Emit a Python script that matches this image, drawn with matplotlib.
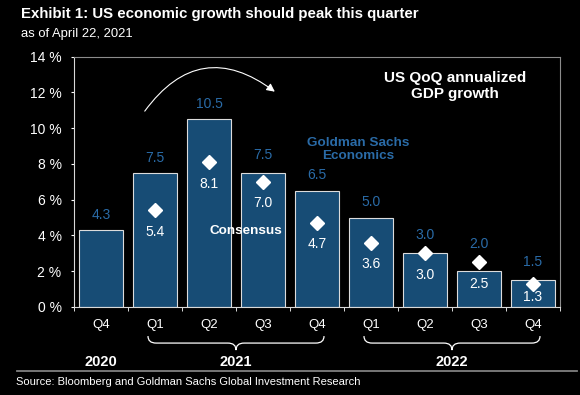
import matplotlib
matplotlib.use('Agg')
import matplotlib.pyplot as plt
from matplotlib.path import Path
from matplotlib.patches import PathPatch
from matplotlib.lines import Line2D
import matplotlib.transforms as mtransforms

plt.rcParams['font.family'] = ['Liberation Sans', 'DejaVu Sans']

# Data
quarters = ['Q4', 'Q1', 'Q2', 'Q3', 'Q4', 'Q1', 'Q2', 'Q3', 'Q4']
gs_growth = [4.3, 7.5, 10.5, 7.5, 6.5, 5.0, 3.0, 2.0, 1.5]
consensus = [None, 5.4, 8.1, 7.0, 4.7, 3.6, 3.0, 2.5, 1.3]
years = ['2020', '2021', '2022']
year_spans = [(0, 0), (1, 4), (5, 8)]
y_ticks = [0, 2, 4, 6, 8, 10, 12, 14]

bar_color = '#174c75'
label_blue = '#2a6ba7'

fig = plt.figure(figsize=(5.8, 3.95), dpi=100, facecolor='black')
ax = fig.add_axes([74 / 580, 88 / 395, 486 / 580, 250.5 / 395])
ax.set_facecolor('black')

x = list(range(len(quarters)))
ax.bar(x, gs_growth, width=0.81, color=bar_color, edgecolor='#dcdcdc', linewidth=0.8, zorder=2)

# consensus diamonds
cx = [i for i, c in zip(x, consensus) if c is not None]
cy = [c for c in consensus if c is not None]
ax.plot(cx, cy, 'D', color='white', markersize=7.5, linestyle='none', zorder=4)

# value labels
for i, (g, c) in enumerate(zip(gs_growth, consensus)):
    if c is not None and c > g - 0.8:
        ty = max(g, c) + 1.0
    else:
        ty = g + 0.85
    ax.text(i, ty, f'{g:.1f}', color=label_blue, fontsize=10, ha='center', va='center', zorder=5)
    if c is not None:
        ax.text(i, max(c - 1.2, 0.58), f'{c:.1f}', color='white', fontsize=10,
                ha='center', va='center', zorder=5)

ax.set_xlim(-0.5, len(quarters) - 0.5)
ax.set_ylim(0, 14)
ax.set_yticks(y_ticks)
ax.set_yticklabels([f'{v} %' for v in y_ticks], color='white', fontsize=10)
ax.set_xticks(x)
ax.set_xticklabels(quarters, color='white', fontsize=9.5)
ax.set_xticks([i - 0.5 for i in range(len(quarters) + 1)], minor=True)
ax.tick_params(axis='x', which='major', length=0, pad=8.5)
ax.tick_params(axis='x', which='minor', length=3, color='white', direction='out')
ax.tick_params(axis='y', length=2.5, color='white', pad=6.5)

for s in ['left', 'bottom']:
    ax.spines[s].set_color('#d9d9d9')
for s in ['top', 'right']:
    ax.spines[s].set_color('#8c8c8c')

# text annotations
ax.text(6.56, 12.35, 'US QoQ annualized\nGDP growth', color='white', fontsize=11,
        fontweight='bold', ha='center', va='center', linespacing=1.1)
ax.text(4.76, 8.78, 'Goldman Sachs\nEconomics', color=label_blue, fontsize=9.7,
        fontweight='bold', ha='center', va='center', linespacing=1.1)
ax.text(2.685, 4.24, 'Consensus', color='white', fontsize=9.7, fontweight='bold',
        ha='center', va='center', zorder=6)
ax.annotate('', xy=(3.26, 11.94), xytext=(0.78, 10.82),
            arrowprops=dict(arrowstyle='-|>', color='white', lw=0.8,
                            connectionstyle='arc3,rad=-0.52', mutation_scale=12))

# year braces and labels under the axis
trans = mtransforms.blended_transform_factory(ax.transData, ax.transAxes)
y_top, y_mid, y_bot = -0.116, -0.144, -0.172
r = 0.15
for (a, b), yr in zip(year_spans, years):
    mid = (a + b) / 2
    if b > a:
        x0, x1 = a - 0.13, b + 0.13
        verts = [(x0, y_top), (x0, y_mid), (x0 + r, y_mid),
                 (mid - r, y_mid), (mid, y_mid), (mid, y_bot),
                 (mid, y_mid), (mid + r, y_mid),
                 (x1 - r, y_mid), (x1, y_mid), (x1, y_top)]
        codes = [Path.MOVETO, Path.CURVE3, Path.CURVE3,
                 Path.LINETO, Path.CURVE3, Path.CURVE3,
                 Path.CURVE3, Path.CURVE3,
                 Path.LINETO, Path.CURVE3, Path.CURVE3]
        ax.add_patch(PathPatch(Path(verts, codes), transform=trans, fill=False,
                               edgecolor='white', lw=0.9, clip_on=False))
    ax.text(mid, -0.22, yr, transform=trans, color='white', fontsize=10.5,
            fontweight='bold', ha='center', va='center')

# titles, rule and source
fig.text(21 / 580, 1 - 14 / 395, 'Exhibit 1: US economic growth should peak this quarter',
         color='white', fontsize=10.8, fontweight='bold', ha='left', va='center')
fig.text(21 / 580, 1 - 34 / 395, 'as of April 22, 2021', color='white', fontsize=9.4,
         ha='left', va='center')
fig.add_artist(Line2D([17 / 580, 577 / 580], [24 / 395, 24 / 395], color='#808080', lw=1.3))
fig.text(16 / 580, 13 / 395, 'Source: Bloomberg and Goldman Sachs Global Investment Research',
         color='white', fontsize=8, ha='left', va='center')

fig.savefig('out.png', dpi=100, facecolor='black')
